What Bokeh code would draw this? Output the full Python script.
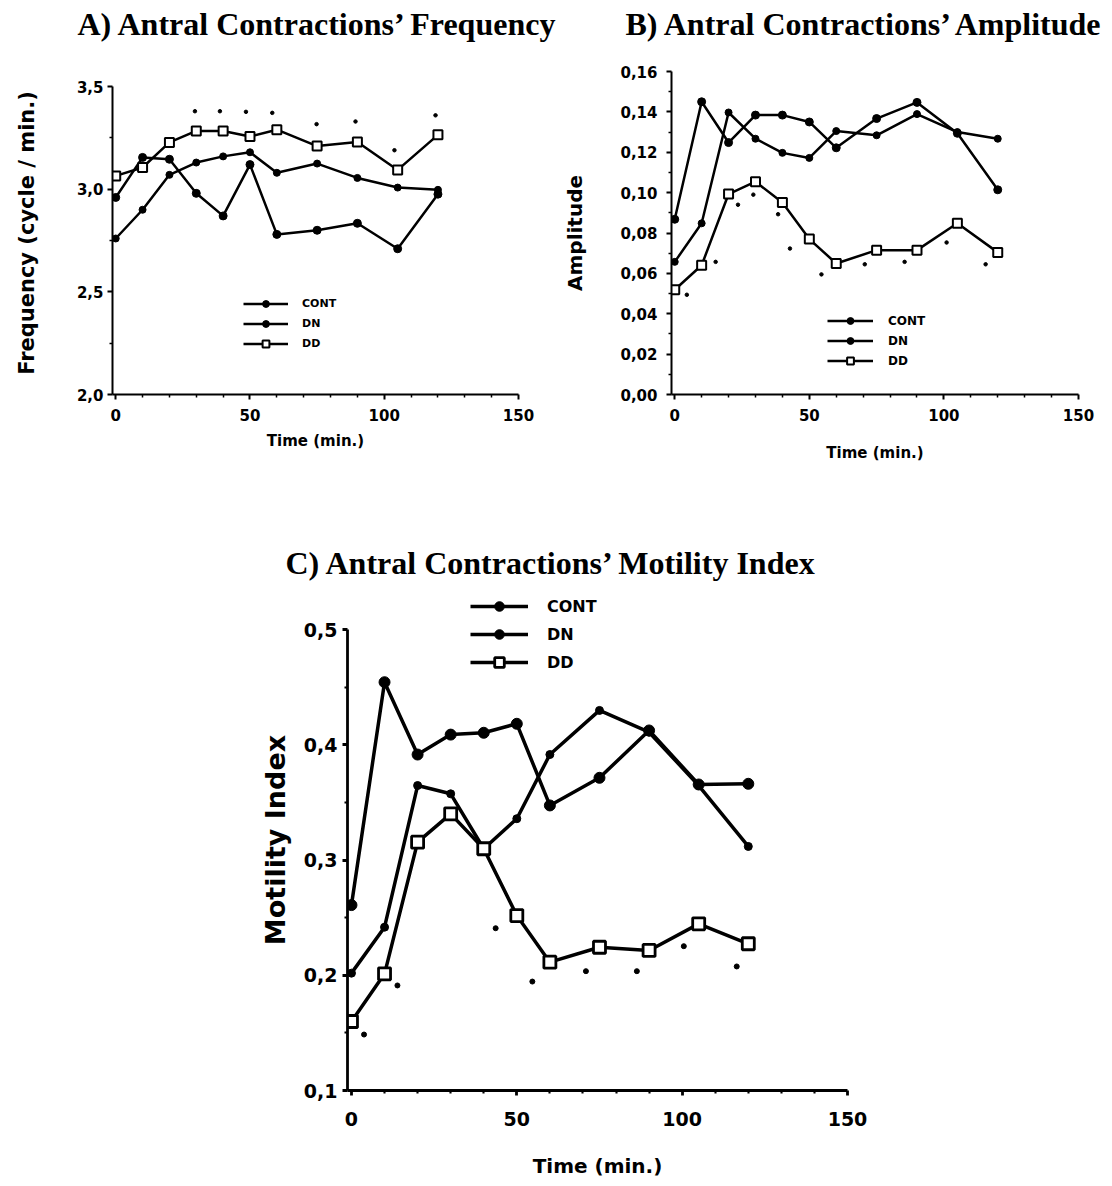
from bokeh.plotting import figure
from bokeh.models import (FixedTicker, CustomJSTickFormatter, Range1d, Legend, LegendItem, Title)
from bokeh.layouts import column, row
from bokeh.embed import file_html
from bokeh.resources import INLINE

# ---------------- data ----------------
time = [0, 10, 20, 30, 40, 50, 60, 75, 90, 105, 120]

freq_cont = [2.96, 3.155, 3.146, 2.98, 2.87, 3.12, 2.78, 2.80, 2.834, 2.71, 2.976]
freq_dn = [2.76, 2.90, 3.07, 3.13, 3.16, 3.18, 3.08, 3.125, 3.055, 3.008, 2.997]
freq_dd = [3.065, 3.106, 3.228, 3.284, 3.284, 3.257, 3.29, 3.21, 3.23, 3.094, 3.265]
freq_sig_t = [29.5, 38.8, 48.5, 58.3, 74.8, 89.3, 103.8, 119.1]
freq_sig_v = [3.38, 3.38, 3.377, 3.372, 3.317, 3.33, 3.19, 3.36]

amp_cont = [0.0868, 0.145, 0.1248, 0.1384, 0.1384, 0.135, 0.1222, 0.1367, 0.1447, 0.1294, 0.1014]
amp_dn = [0.0657, 0.0848, 0.1397, 0.1267, 0.1197, 0.1172, 0.1305, 0.1284, 0.1389, 0.130, 0.1267]
amp_dd = [0.0519, 0.064, 0.0993, 0.1054, 0.0951, 0.077, 0.0649, 0.0715, 0.0715, 0.0848, 0.0704]
amp_sig_t = [4.5, 15.2, 23.5, 29.2, 38.4, 42.8, 54.5, 70.6, 85.4, 101, 115.5]
amp_sig_v = [0.0494, 0.0657, 0.094, 0.099, 0.0893, 0.0723, 0.0595, 0.0645, 0.0657, 0.0753, 0.0645]

mi_cont = [0.261, 0.4545, 0.3917, 0.409, 0.4106, 0.4184, 0.3475, 0.3715, 0.4126, 0.3657, 0.3663]
mi_dn = [0.2019, 0.2418, 0.3648, 0.3576, 0.3099, 0.336, 0.3917, 0.43, 0.4111, 0.3648, 0.3119]
mi_dd = [0.1599, 0.2013, 0.3156, 0.3402, 0.3099, 0.2519, 0.2114, 0.2244, 0.2216, 0.2447, 0.2274]
mi_sig_t = [3.8, 13.9, 43.6, 54.7, 70.9, 86.3, 100.5, 116.5]
mi_sig_v = [0.1486, 0.1912, 0.2409, 0.1946, 0.2036, 0.2036, 0.2253, 0.2077]

x_ticks = [0, 50, 100, 150]
x_minor = [10, 20, 30, 40, 60, 70, 80, 90, 110, 120, 130, 140]
freq_ticks = [2.0, 2.5, 3.0, 3.5]
freq_minor = [2.25, 2.75, 3.25]
amp_ticks = [0.0, 0.02, 0.04, 0.06, 0.08, 0.10, 0.12, 0.14, 0.16]
amp_minor = [0.01, 0.03, 0.05, 0.07, 0.09, 0.11, 0.13, 0.15]
mi_ticks = [0.1, 0.2, 0.3, 0.4, 0.5]
mi_minor = [0.15, 0.25, 0.35, 0.45]

series_names = ["CONT", "DN", "DD"]

SANS = "DejaVu Sans"
SERIF = "Liberation Serif"


def fmt(digits):
    return CustomJSTickFormatter(code="return tick.toFixed(%d).replace('.', ',');" % digits)


def build(title, title_offset, title_standoff, spacer, width, height, borders, y_rng, y_bounds,
          yt, ym, ydig, ylabel, ys, sig_t, sig_v, lw, tick_fs, ylab_fs, xlab_fs, ylab_standoff,
          xlab_standoff, xtick_standoff, ytick_standoff, sizes, sig_size, leg_loc, leg_gw,
          leg_gh, leg_sp, leg_fs, leg_ls):
    p = figure(width=width, height=height, output_backend="svg", toolbar_location=None,
               x_range=Range1d(-1.2, 150), y_range=Range1d(*y_rng), title=None)
    p.min_border_left, p.min_border_right, p.min_border_top, p.min_border_bottom = borders
    p.outline_line_color = None
    p.xgrid.visible = False
    p.ygrid.visible = False
    p.background_fill_color = "white"
    p.border_fill_color = "white"

    # spacer between frame and title (closest to the frame), then the title itself
    p.add_layout(Title(text=" ", text_font_size="1px", standoff=spacer, text_color="white"), "above")
    p.add_layout(Title(text=title, text_font=SERIF, text_font_style="bold", text_font_size="32px",
                       align="left", vertical_align="top", offset=title_offset,
                       standoff=title_standoff, text_color="black"), "above")

    p.xaxis.ticker = FixedTicker(ticks=x_ticks, minor_ticks=x_minor)
    p.yaxis.ticker = FixedTicker(ticks=yt, minor_ticks=ym)
    p.yaxis.formatter = fmt(ydig)
    p.xaxis.formatter = fmt(0)
    p.yaxis.bounds = y_bounds
    p.xaxis.axis_label = "Time (min.)"
    p.yaxis.axis_label = ylabel
    for ax in (p.xaxis[0], p.yaxis[0]):
        ax.axis_line_width = lw * 0.8
        ax.axis_line_color = "black"
        ax.major_tick_line_width = lw * 0.8
        ax.minor_tick_line_width = lw * 0.6
        ax.major_tick_out = 5
        ax.major_tick_in = 0
        ax.minor_tick_out = 3
        ax.minor_tick_in = 0
        ax.major_label_text_font = SANS
        ax.major_label_text_font_style = "bold"
        ax.major_label_text_font_size = tick_fs
        ax.major_label_text_color = "black"
        ax.axis_label_text_font = SANS
        ax.axis_label_text_font_style = "bold"
        ax.axis_label_text_color = "black"
    p.xaxis.major_label_standoff = xtick_standoff
    p.yaxis.major_label_standoff = ytick_standoff
    p.yaxis.axis_label_text_font_size = ylab_fs
    p.xaxis.axis_label_text_font_size = xlab_fs
    p.yaxis.axis_label_standoff = ylab_standoff
    p.xaxis.axis_label_standoff = xlab_standoff

    c_size, dn_size, dd_size = sizes
    items = []
    l1 = p.line(time, ys[0], line_color="black", line_width=lw)
    m1 = p.scatter(time, ys[0], marker="circle", size=c_size, fill_color="black", line_color="black")
    l2 = p.line(time, ys[1], line_color="black", line_width=lw)
    m2 = p.scatter(time, ys[1], marker="circle", size=dn_size, fill_color="black", line_color="black")
    l3 = p.line(time, ys[2], line_color="black", line_width=lw)
    m3 = p.scatter(time, ys[2], marker="square", size=dd_size, fill_color="white", line_color="black",
                   line_width=lw * 0.8)
    p.scatter(sig_t, sig_v, marker="circle", size=sig_size, fill_color="black", line_color="black")
    for name, rs in zip(series_names, [[l1, m1], [l2, m2], [l3, m3]]):
        items.append(LegendItem(label=name, renderers=rs))
    leg = Legend(items=items, location=leg_loc, orientation="vertical", glyph_width=leg_gw,
                 glyph_height=leg_gh, label_height=leg_gh, spacing=leg_sp, padding=0, margin=0,
                 label_standoff=leg_ls, border_line_color=None, background_fill_alpha=0,
                 label_text_font=SANS, label_text_font_style="bold", label_text_font_size=leg_fs,
                 label_text_color="black")
    p.add_layout(leg)
    return p


pA = build("A) Antral Contractions\u2019 Frequency", -35, 10, 20, 556, 544, (112, 38, 0, 150),
           (2.0, 3.5735), (2.0, 3.5), freq_ticks, freq_minor, 1, "Frequency (cycle / min.)",
           [freq_cont, freq_dn, freq_dd], freq_sig_t, freq_sig_v, 2.5, "15px", "21px", "15px",
           35, 8, 9, 4, (8, 7, 9), 3.5, (131, 42), 45, 17, 3, "11px", 14)

pB = build("B) Antral Contractions\u2019 Amplitude", -46, 10, 20, 556, 544, (115, 34, 0, 150),
           (0.0, 0.16), (0.0, 0.16), amp_ticks, amp_minor, 2, "Amplitude",
           [amp_cont, amp_dn, amp_dd], amp_sig_t, amp_sig_v, 2.5, "15px", "20px", "15px",
           30, 20, 9, 9, (8, 7, 9), 3.5, (156, 25), 46, 17, 3, "12px", 15)

pC = build("C) Antral Contractions\u2019 Motility Index", -62, 0, 4, 1112, 637, (347, 265, 0, 91),
           (0.1, 0.535), (0.1, 0.5), mi_ticks, mi_minor, 1, "Motility Index",
           [mi_cont, mi_dn, mi_dd], mi_sig_t, mi_sig_v, 3.5, "19px", "27px", "20px",
           10, 25, 16, 5, (11, 8, 12), 5, (123, 416), 58, 24, 4, "16px", 19)

layout = column(row(pA, pB), pC)
open("out.html", "w").write(file_html(layout, INLINE))
